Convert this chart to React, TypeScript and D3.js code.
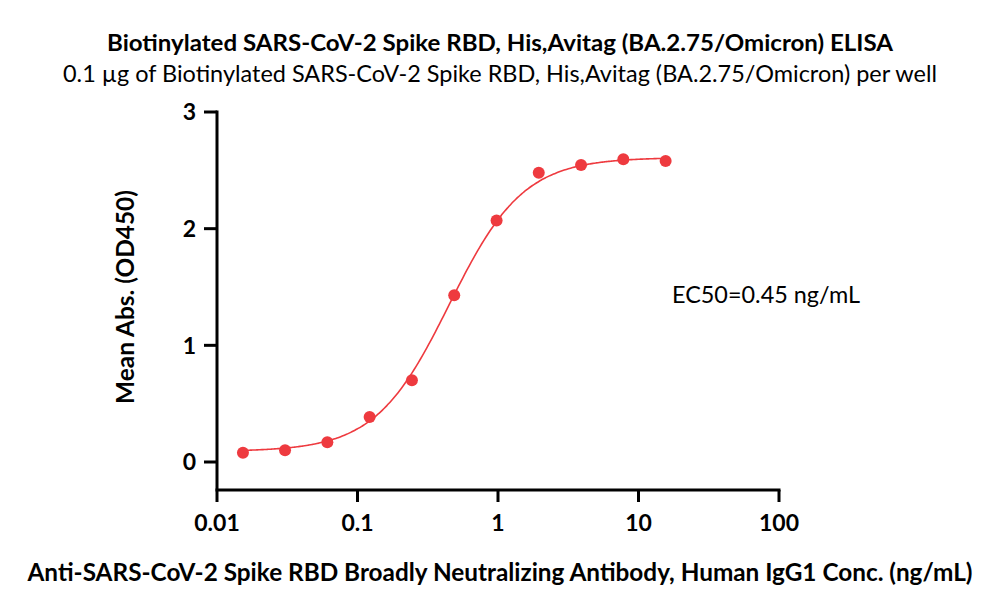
import React from "react";
import * as d3 from "d3";

const concentrations = [0.0153, 0.0305, 0.061, 0.122, 0.244, 0.488, 0.977, 1.95, 3.9, 7.8, 15.6];
const absorbance = [0.08, 0.10, 0.17, 0.385, 0.70, 1.43, 2.07, 2.48, 2.545, 2.595, 2.58];
const xTicks = [0.01, 0.1, 1, 10, 100];
const xTickLabels = ["0.01", "0.1", "1", "10", "100"];
const yTicks = [0, 1, 2, 3];

// 4PL fit parameters
const fitBottom = 0.09;
const fitTop = 2.61;
const fitEC50 = 0.45;
const fitHill = 1.65;

const title = "Biotinylated SARS-CoV-2 Spike RBD, His,Avitag (BA.2.75/Omicron) ELISA";
const subtitle = "0.1 µg of Biotinylated SARS-CoV-2 Spike RBD, His,Avitag (BA.2.75/Omicron) per well";
const xLabel = "Anti-SARS-CoV-2 Spike RBD Broadly Neutralizing Antibody, Human IgG1 Conc. (ng/mL)";
const yLabel = "Mean Abs. (OD450)";
const ecLabel = "EC50=0.45 ng/mL";

const W = 1000, H = 614;
const FONT = "Lato, 'Open Sans', sans-serif";
const RED = "#EE3A3F";

export default function App() {
  const x = d3.scaleLog().domain([0.01, 100]).range([217, 779]);
  const y = d3.scaleLinear().domain([0, 3]).range([462, 112]);
  const axisY = 490;

  const fit = (c: number) => fitBottom + (fitTop - fitBottom) / (1 + Math.pow(fitEC50 / c, fitHill));
  const lo = Math.log10(concentrations[0]);
  const hi = Math.log10(concentrations[concentrations.length - 1]);
  const curveXs = d3.range(0, 201).map(i => Math.pow(10, lo + (i / 200) * (hi - lo)));
  const line = d3.line<number>().x(c => x(c)).y(c => y(fit(c))).curve(d3.curveMonotoneX);

  return (
    <div style={{ margin: -8 }}>
      <svg width={W} height={H} style={{ display: "block", background: "#fff" }}>
        <text x={500} y={51} textAnchor="middle" fontFamily={FONT} fontWeight="bold" fontSize={23.5} textLength={786} lengthAdjust="spacingAndGlyphs">{title}</text>
        <text x={500} y={82} textAnchor="middle" fontFamily={FONT} fontSize={23} textLength={874} lengthAdjust="spacingAndGlyphs">{subtitle}</text>

        {/* y axis */}
        <line x1={217} x2={217} y1={y(3) - 1.5} y2={axisY} stroke="#000" strokeWidth={3} />
        {yTicks.map(t => (
          <g key={t}>
            <line x1={204} x2={217} y1={y(t)} y2={y(t)} stroke="#000" strokeWidth={3} />
            <text x={196} y={y(t)} dy="0.36em" textAnchor="end" fontFamily={FONT} fontWeight="bold" fontSize={23}>{t}</text>
          </g>
        ))}

        {/* x axis */}
        <line x1={215.5} x2={780.5} y1={axisY} y2={axisY} stroke="#000" strokeWidth={3} />
        {xTicks.map((t, i) => (
          <g key={t}>
            <line x1={x(t)} x2={x(t)} y1={axisY} y2={axisY + 12} stroke="#000" strokeWidth={3} />
            <text x={x(t)} y={531} textAnchor="middle" fontFamily={FONT} fontWeight="bold" fontSize={23}>{xTickLabels[i]}</text>
          </g>
        ))}

        <path d={line(curveXs) || ""} fill="none" stroke={RED} strokeWidth={1.6} />
        {concentrations.map((c, i) => (
          <circle key={i} cx={x(c)} cy={y(absorbance[i])} r={6} fill={RED} />
        ))}

        <text x={672} y={303} fontFamily={FONT} fontSize={23} textLength={188} lengthAdjust="spacingAndGlyphs">{ecLabel}</text>

        <text transform={`translate(134,297) rotate(-90)`} textAnchor="middle" fontFamily={FONT} fontWeight="bold" fontSize={24} textLength={214} lengthAdjust="spacingAndGlyphs">{yLabel}</text>
        <text x={500} y={581} textAnchor="middle" fontFamily={FONT} fontWeight="bold" fontSize={24} textLength={945} lengthAdjust="spacingAndGlyphs">{xLabel}</text>
      </svg>
    </div>
  );
}
